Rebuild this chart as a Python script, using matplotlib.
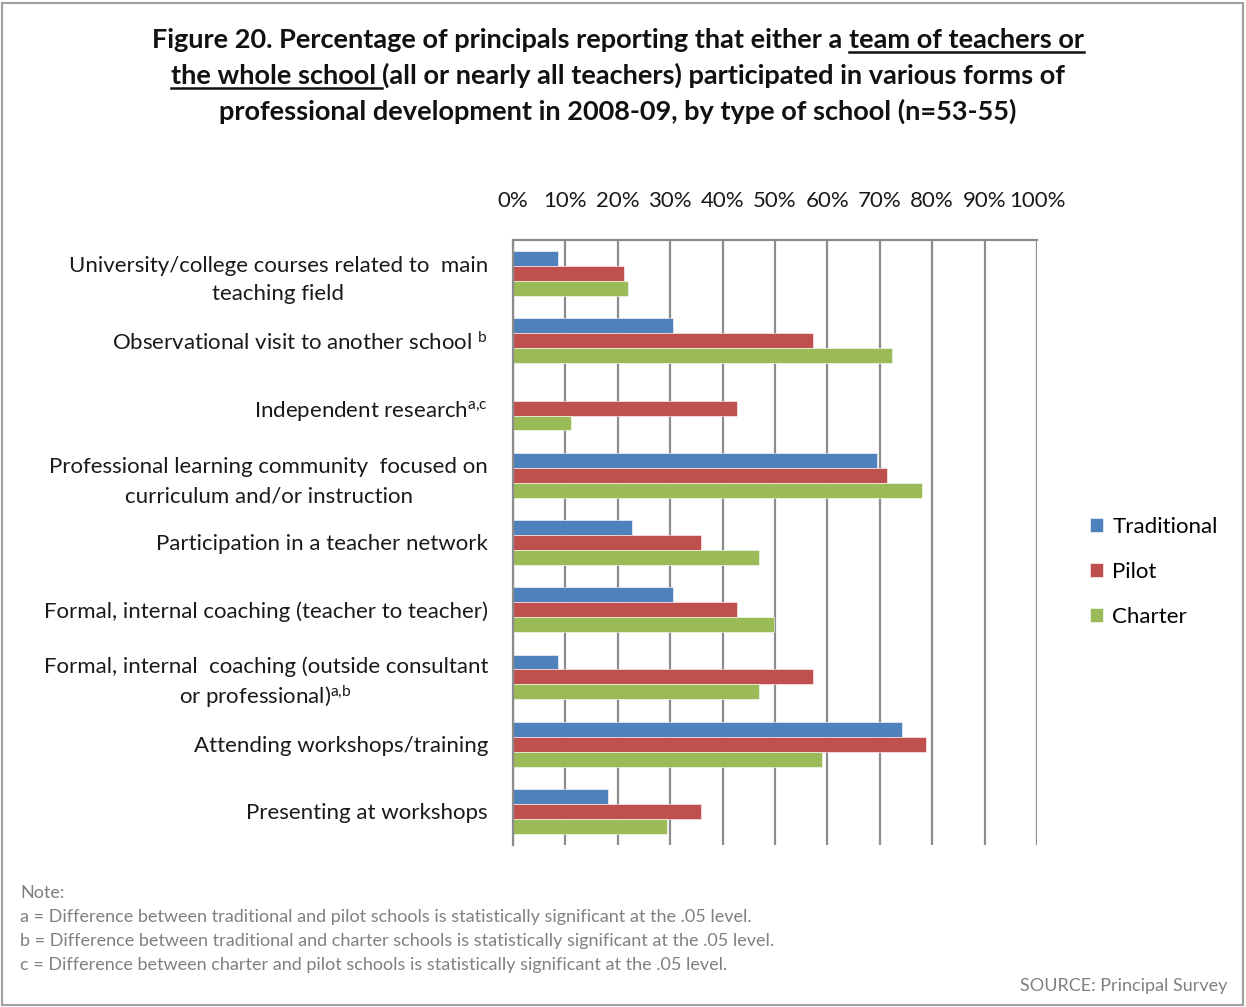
import numpy as np
import matplotlib
matplotlib.use('Agg')
import matplotlib.pyplot as plt
from matplotlib.lines import Line2D
from matplotlib.patches import Rectangle

plt.rcParams['font.family'] = ['Lato', 'DejaVu Sans']
plt.rcParams['mathtext.fontset'] = 'custom'
plt.rcParams['mathtext.rm'] = 'Lato'
plt.rcParams['mathtext.it'] = 'Lato:italic'
plt.rcParams['mathtext.bf'] = 'Lato:bold'

## Data
categories = [
    'University/college courses related to  main\nteaching field',
    'Observational visit to another school $^{\\mathrm{b}}$',
    'Independent research$^{\\mathrm{a{,}c}}$',
    'Professional learning community  focused on\ncurriculum and/or instruction',
    'Participation in a teacher network',
    'Formal, internal coaching (teacher to teacher)',
    'Formal, internal  coaching (outside consultant\nor professional)$^{\\mathrm{a{,}b}}$',
    'Attending workshops/training',
    'Presenting at workshops',
]
series = ['Traditional', 'Pilot', 'Charter']
traditional = [8.6, 30.5, 0.0, 69.5, 22.7, 30.5, 8.6, 74.2, 18.2]
pilot = [21.2, 57.2, 42.8, 71.3, 35.8, 42.8, 57.2, 78.8, 35.8]
charter = [22.0, 72.4, 11.0, 78.0, 47.0, 49.8, 47.0, 59.0, 29.3]
colors = ['#4F81BD', '#C0504D', '#9BBB59']

x_ticks = list(range(0, 101, 10))
x_tick_labels = ['%d%%' % v for v in x_ticks]

notes = [
    'Note:',
    'a = Difference between traditional and pilot schools is statistically significant at the .05 level.',
    'b = Difference between traditional and charter schools is statistically significant at the .05 level.',
    'c = Difference between charter and pilot schools is statistically significant at the .05 level.',
]
source = 'SOURCE: Principal Survey'

W, H = 1246, 1007
fig = plt.figure(figsize=(W / 100, H / 100), dpi=100)
fig.patch.set_facecolor('white')

## Bars
ax = fig.add_axes([513 / W, 1 - 845 / H, (1037 - 513) / W, (845 - 240) / H])
y = np.arange(len(categories))
h = 1 / 4.5
for i, (vals, name, col) in enumerate(zip([traditional, pilot, charter], series, colors)):
    ax.barh(y + (i - 1) * h, vals, height=h, color=col, label=name,
            edgecolor='white', linewidth=0.4)

ax.set_xlim(0, 100)
ax.set_ylim(len(categories) - 0.5, -0.5)
ax.xaxis.tick_top()
ax.set_xticks(x_ticks)
ax.set_xticklabels(x_tick_labels, fontsize=16, color='#1a1a1a')
ax.set_yticks(y)
ax.set_yticklabels(categories, fontsize=16, color='#1a1a1a')
for lab in ax.get_yticklabels():
    lab.set_multialignment('center')
    # the superscripted second line is taller, so keep it a bit tighter
    lab.set_linespacing(1.3 if '$' in lab.get_text() else 1.55)
ax.tick_params(axis='x', length=0, pad=21)
ax.tick_params(axis='y', length=0, pad=18)
ax.grid(axis='x', color='#8c8c8c', linewidth=1.6)
ax.set_axisbelow(True)
for side in ['bottom', 'right']:
    ax.spines[side].set_visible(False)
for side in ['top', 'left']:
    ax.spines[side].set_color('#8c8c8c')
    ax.spines[side].set_linewidth(1.6)

## Legend
fig.legend(loc='upper left', bbox_to_anchor=(1079 / W, 1 - 506 / H), frameon=False,
           fontsize=16, handlelength=0.6, handleheight=0.6, handletextpad=0.4,
           labelspacing=1.12, borderpad=0)

## Title with underlined phrase
renderer = fig.canvas.get_renderer()
fs_title = 19.5


def text_width(s):
    t = fig.text(0, 0, s, fontsize=fs_title, fontweight='bold')
    w = t.get_window_extent(renderer).width
    t.remove()
    return w


space_w = text_width('x x') - text_width('xx')


def title_line(parts, baseline_px, cx=618):
    widths = [text_width(p[0]) for p in parts]
    total = sum(widths) + space_w * (len(parts) - 1)
    x = cx - total / 2
    yb = 1 - baseline_px / H
    for (s, under, extend), w in zip(parts, widths):
        fig.text(x / W, yb, s, fontsize=fs_title, fontweight='bold',
                 va='baseline', ha='left', color='#111111')
        if under:
            end = x + w + (space_w if extend else 0)
            fig.add_artist(Line2D([x / W, end / W], [yb - 4 / H, yb - 4 / H],
                                  color='#111111', linewidth=1.8))
        x += w + space_w


title_line([('Figure 20. Percentage of principals reporting that either a', False, False),
            ('team of teachers or', True, False)], 48)
title_line([('the whole school', True, True),
            ('(all or nearly all teachers) participated in various forms of', False, False)], 84)
title_line([('professional development in 2008-09, by type of school (n=53-55)', False, False)], 120)

## Notes and source
for k, line in enumerate(notes):
    fig.text(20 / W, 1 - (893 + 24 * k) / H, line, fontsize=13, color='#808080', va='center')
fig.text(1227 / W, 1 - 986 / H, source, fontsize=13, color='#808080', va='center', ha='right')

## Outer frame
fig.add_artist(Rectangle((2 / W, 2 / H), 1 - 5 / W, 1 - 5 / H, transform=fig.transFigure,
                         fill=False, edgecolor='#a0a0a0', linewidth=1.5))

fig.savefig('out.png', dpi=100)
